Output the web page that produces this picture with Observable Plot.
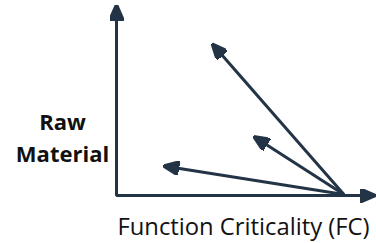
<!DOCTYPE html>
<html>
<head>
<meta charset="utf-8">
<script src="https://cdn.jsdelivr.net/npm/d3@7"></script>
<script src="https://cdn.jsdelivr.net/npm/@observablehq/plot@0.6"></script>
<style>
  html, body { margin: 0; padding: 0; background: #fff; }
  #chart { width: 376px; height: 243px; }
</style>
</head>
<body>
<div id="chart"></div>
<script>
// ---- data ----
const axisMax = 10;                 // axis extent (both axes)
const originX = [8.85, 8.85, 8.85]; // shared origin of the three arrows
const originY = [0.05, 0.05, 0.05];
const tipX = [3.77, 5.40, 1.90];
const tipY = [7.95, 3.07, 1.55];
const xLabel = "Function Criticality (FC)";
const yLabel = "Raw\nMaterial";

const ink = "#233447";

const arrows = tipX.map((x, i) => ({x1: originX[i], y1: originY[i], x2: x, y2: tipY[i]}));
const axisPath = [
  {x: 0, y: axisMax},
  {x: 0, y: 0},
  {x: axisMax, y: 0}
];

// filled triangular arrow head
function filledHead() {
  const ns = "http://www.w3.org/2000/svg";
  const m = document.createElementNS(ns, "marker");
  m.setAttribute("viewBox", "0 -7 16 14");
  m.setAttribute("markerWidth", 16);
  m.setAttribute("markerHeight", 14);
  m.setAttribute("markerUnits", "userSpaceOnUse");
  m.setAttribute("refX", 14);
  m.setAttribute("refY", 0);
  m.setAttribute("orient", "auto-start-reverse");
  const p = document.createElementNS(ns, "path");
  p.setAttribute("d", "M0,-7L16,0L0,7Z");
  p.setAttribute("fill", ink);
  m.appendChild(p);
  return m;
}

const chart = Plot.plot({
  width: 376,
  height: 243,
  marginLeft: 116,
  marginRight: 3,
  marginTop: 6,
  marginBottom: 48,
  x: {domain: [0, axisMax], axis: null},
  y: {domain: [0, axisMax], axis: null},
  style: {fontFamily: "'Open Sans', sans-serif", background: "#fff"},
  marks: [
    Plot.line(axisPath, {
      x: "x", y: "y", stroke: ink, strokeWidth: 3,
      strokeLinejoin: "miter", strokeLinecap: "butt",
      markerStart: filledHead, markerEnd: filledHead
    }),
    Plot.link(arrows, {
      x1: "x1", y1: "y1", x2: "x2", y2: "y2",
      stroke: ink, strokeWidth: 3, markerEnd: filledHead
    }),
    Plot.text([xLabel], {
      text: d => d, frameAnchor: "bottom", textAnchor: "middle",
      lineAnchor: "middle", dx: -1.5, dy: 31.5,
      fontSize: 23.8, fill: "#111"
    }),
    Plot.text([yLabel], {
      text: d => d, frameAnchor: "left", textAnchor: "middle",
      lineAnchor: "middle", lineHeight: 1.45, dx: -54, dy: 34.5,
      fontSize: 22, fontWeight: "bold", fill: "#111"
    })
  ]
});
document.getElementById("chart").appendChild(chart);
</script>
</body>
</html>
